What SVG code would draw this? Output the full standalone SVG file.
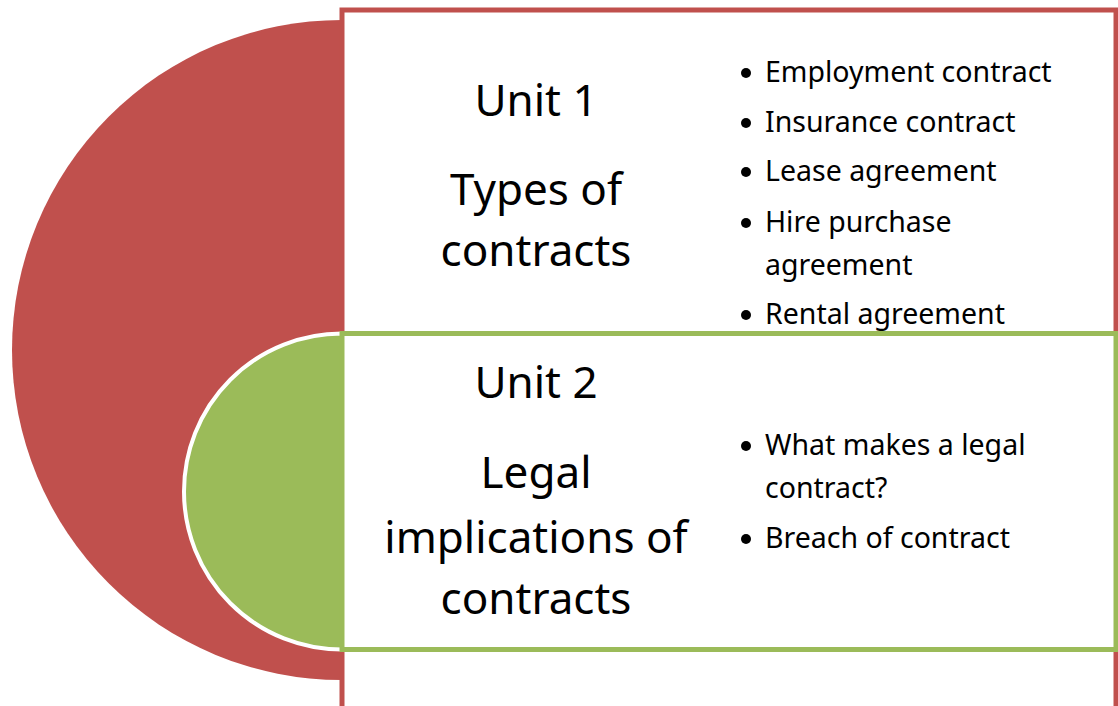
<svg xmlns="http://www.w3.org/2000/svg" width="1118" height="706" viewBox="0 0 1118 706">
  <style>
    .title { font-family: "Noto Sans", "Open Sans", sans-serif; font-size: 44px; fill: #000; text-anchor: middle; }
    .item { font-family: "Noto Sans", "Open Sans", sans-serif; font-size: 28.5px; fill: #000; }
    .red { fill: #C0504D; }
    .green { fill: #9BBB59; }
    .bullet { fill: #000; }
  </style>
  <rect width="1118" height="706" fill="#FFFFFF"/>
  <g id="unit1">
    <path class="red" d="M342,20 A330,330 0 0 0 342,680 Z"/>
    <rect x="342" y="10" width="774" height="720" fill="#FFFFFF" stroke="#C0504D" stroke-width="5"/>
    <text class="title" x="536" y="116">Unit 1</text>
    <text class="title" x="536" y="205">Types of</text>
    <text class="title" x="536" y="266">contracts</text>
    <circle class="bullet" cx="746" cy="73" r="5"/>
    <text class="item" x="765" y="82">Employment contract</text>
    <circle class="bullet" cx="746" cy="123" r="5"/>
    <text class="item" x="765" y="132">Insurance contract</text>
    <circle class="bullet" cx="746" cy="172" r="5"/>
    <text class="item" x="765" y="181">Lease agreement</text>
    <circle class="bullet" cx="746" cy="223" r="5"/>
    <text class="item" x="765" y="232">Hire purchase</text>
    <text class="item" x="765" y="275">agreement</text>
    <circle class="bullet" cx="746" cy="315" r="5"/>
    <text class="item" x="765" y="324">Rental agreement</text>
  </g>
  <g id="unit2">
    <path class="green" d="M342,333.5 A158,158 0 0 0 342,649.5 Z" stroke="#FFFFFF" stroke-width="4"/>
    <rect x="342" y="333.5" width="774" height="316" fill="#FFFFFF" stroke="#9BBB59" stroke-width="5"/>
    <text class="title" x="536" y="398">Unit 2</text>
    <text class="title" x="536" y="488">Legal</text>
    <text class="title" x="536" y="553">implications of</text>
    <text class="title" x="536" y="614">contracts</text>
    <circle class="bullet" cx="746" cy="446" r="5"/>
    <text class="item" x="765" y="455">What makes a legal</text>
    <text class="item" x="765" y="498">contract?</text>
    <circle class="bullet" cx="746" cy="539" r="5"/>
    <text class="item" x="765" y="548">Breach of contract</text>
  </g>
  <g id="connectors"/>
</svg>
